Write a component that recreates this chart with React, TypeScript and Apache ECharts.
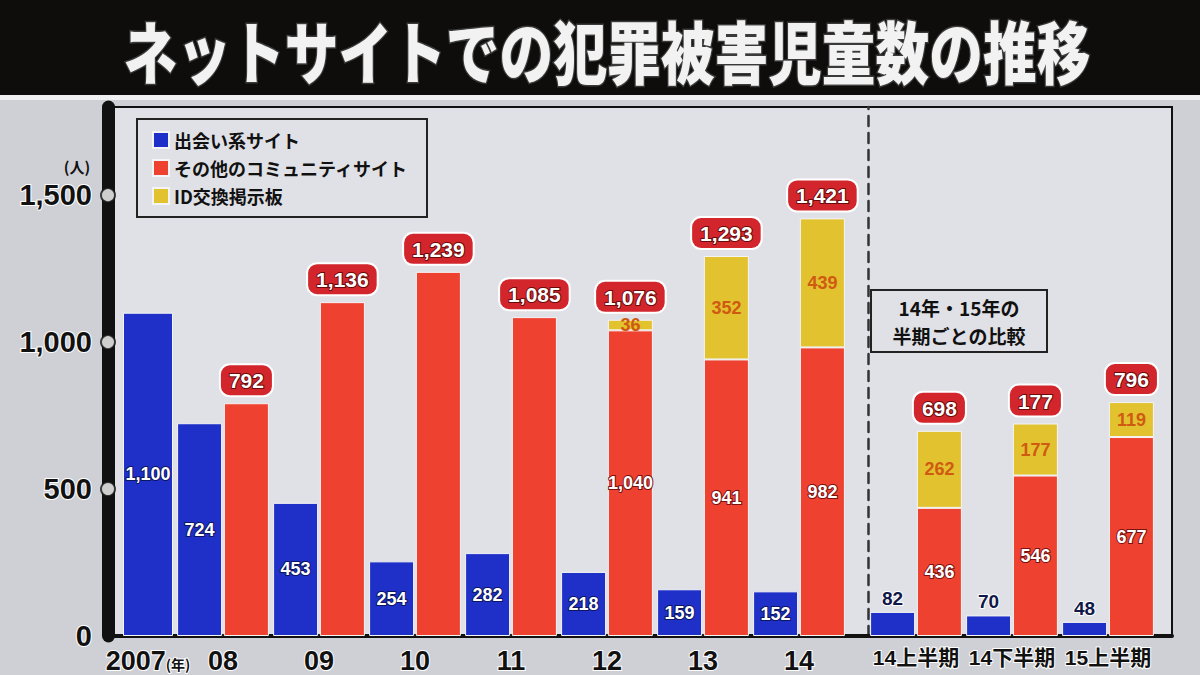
import { useEffect, useRef } from "react";
import * as echarts from "echarts";

const categories = ["2007", "08", "09", "10", "11", "12", "13", "14", "14上半期", "14下半期", "15上半期"];
const deaiSite = [1100, 724, 453, 254, 282, 218, 159, 152, 82, 70, 48];
const communitySite = [null, 792, 1136, 1239, 1085, 1040, 941, 982, 436, 546, 677];
const idBoard = [null, null, null, null, null, 36, 352, 439, 262, 177, 119];
const totalLabels = ["", "792", "1,136", "1,239", "1,085", "1,076", "1,293", "1,421", "698", "177", "796"];
const yTicks = [500, 1000, 1500];

const NAMES = ["出会い系サイト", "その他のコミュニティサイト", "ID交換掲示板"];
const COLORS = ["#1f30c8", "#ef4130", "#e2c22e"];

const JP = "'Noto Sans CJK JP', sans-serif";
const NUM = "'Liberation Sans', 'Noto Sans CJK JP', sans-serif";

const fmt = (v: number) => v.toLocaleString("en-US");

// bar groups: [start, end, gridIndex]
const groups: [number, number, number][] = [
  [0, 1, 1],
  [1, 8, 2],
  [8, 11, 3],
];

function buildSeries() {
  const series: any[] = [
    {
      type: "scatter",
      xAxisIndex: 0,
      yAxisIndex: 0,
      data: yTicks.map(v => [0, v]),
      symbolSize: 14,
      clip: false,
      silent: true,
      z: 5,
      itemStyle: { color: "#ffffff", borderColor: "#111", borderWidth: 2 },
    },
  ];
  groups.forEach(([s, e, g]) => {
    const half = g === 3;
    const stack = "c" + g;
    series.push({
      type: "bar",
      name: NAMES[0],
      xAxisIndex: g,
      yAxisIndex: g,
      data: deaiSite.slice(s, e),
      barWidth: g === 1 ? 50 : 45,
      barGap: "4%",
      itemStyle: { color: COLORS[0], borderColor: "#f4f4f4", borderWidth: 1 },
      label: half
        ? {
            show: true, position: "top", distance: 4, color: "#101848", fontSize: 19,
            fontWeight: "bold", fontFamily: NUM, textBorderColor: "#fff", textBorderWidth: 2,
          }
        : {
            show: true, position: "inside", color: "#fff", fontSize: 18, fontWeight: "bold",
            fontFamily: NUM, textBorderColor: "#0d1660", textBorderWidth: 2,
            formatter: (p: any) => fmt(p.value),
          },
    });
    if (g === 1) return;
    series.push({
      type: "bar",
      name: NAMES[1],
      xAxisIndex: g,
      yAxisIndex: g,
      stack,
      data: communitySite.slice(s, e),
      barWidth: 45,
      barGap: "4%",
      itemStyle: { color: COLORS[1], borderColor: "#f4f4f4", borderWidth: 1 },
      label: {
        show: true, position: "inside", color: "#fff", fontSize: 18, fontWeight: "bold",
        fontFamily: NUM, textBorderColor: "#7a1010", textBorderWidth: 2,
        formatter: (p: any) => (idBoard[s + p.dataIndex] == null ? "" : fmt(p.value)),
      },
    });
    series.push({
      type: "bar",
      name: NAMES[2],
      xAxisIndex: g,
      yAxisIndex: g,
      stack,
      data: idBoard.slice(s, e),
      barWidth: 45,
      barGap: "4%",
      itemStyle: { color: COLORS[2], borderColor: "#f4f4f4", borderWidth: 1 },
      label: {
        show: true, position: "inside", color: "#cf5a12", fontSize: 18, fontWeight: "bold",
        fontFamily: NUM,
      },
    });
    series.push({
      type: "bar",
      name: "合計",
      xAxisIndex: g,
      yAxisIndex: g,
      stack,
      data: totalLabels.slice(s, e).map(() => 0),
      barWidth: 45,
      barGap: "4%",
      itemStyle: { color: "transparent" },
      z: 6,
      label: {
        show: true,
        position: "top",
        distance: 8,
        formatter: (p: any) => totalLabels[s + p.dataIndex],
        color: "#fff",
        fontSize: 21,
        fontWeight: "bold",
        fontFamily: NUM,
        textBorderColor: "#6a0a0a",
        textBorderWidth: 2,
        backgroundColor: "#d2262c",
        borderColor: "#fff",
        borderWidth: 2,
        borderRadius: 9,
        padding: [5, 8, 4, 8],
      },
    });
  });
  return series;
}

const catAxisLabel = {
  color: "#111",
  fontSize: 27,
  fontWeight: "bold",
  fontFamily: NUM,
  textBorderColor: "#fff",
  textBorderWidth: 2,
  margin: 11,
  interval: 0,
};

export default function App() {
  const ref = useRef<HTMLDivElement>(null);

  useEffect(() => {
    document.body.style.margin = "0";
    if (!ref.current) return;
    const chart = echarts.init(ref.current, null, { renderer: "svg" });
    const gridPos = { top: 107, bottom: 39 };

    chart.setOption({
      animation: false,
      backgroundColor: "#cfd0d5",
      graphic: [
        { type: "rect", shape: { x: 0, y: 0, width: 1200, height: 95 }, style: { fill: "#0f0d0b" } },
        { type: "rect", shape: { x: 0, y: 95, width: 1200, height: 5 }, style: { fill: "#f0f0f2" } },
        {
          type: "text",
          x: 607,
          y: 50,
          scaleX: 0.79,
          style: {
            text: "ネットサイトでの犯罪被害児童数の推移",
            fill: "#f2f2f2",
            stroke: "#3a3a3a",
            lineWidth: 3,
            fontSize: 68,
            fontWeight: 900,
            fontFamily: JP,
            align: "center",
            verticalAlign: "middle",
          },
        },
        {
          type: "text",
          x: 77,
          y: 166,
          style: {
            text: "(人)",
            fill: "#111",
            fontSize: 15,
            fontWeight: "bold",
            fontFamily: JP,
            align: "center",
            verticalAlign: "middle",
          },
        },
      ],
      title: {
        text: "14年・15年の\n半期ごとの比較",
        left: 937,
        top: 290,
        textAlign: "center",
        padding: [3, 22, 3, 22],
        borderColor: "#222",
        borderWidth: 2,
        textStyle: { fontSize: 19, fontWeight: "bold", color: "#111", fontFamily: JP, lineHeight: 28 },
      },
      legend: {
        data: NAMES,
        orient: "vertical",
        left: 137,
        top: 119,
        padding: [12, 19, 12, 15],
        itemGap: 10,
        itemWidth: 16,
        itemHeight: 16,
        icon: "rect",
        selectedMode: false,
        borderColor: "#222",
        borderWidth: 2,
        textStyle: { fontSize: 18, fontWeight: "bold", color: "#111", fontFamily: JP },
      },
      grid: [
        { left: 108, right: 28, ...gridPos, show: true, backgroundColor: "#e0e1e6", borderColor: "#111", borderWidth: 2 },
        { left: 98, width: 100, ...gridPos },
        { left: 175, width: 672, ...gridPos },
        { left: 868, width: 288, ...gridPos },
      ],
      xAxis: [
        {
          gridIndex: 0, type: "value", min: 0, max: 1,
          axisLine: { show: true, lineStyle: { color: "#111", width: 4 } },
          axisTick: { show: false }, axisLabel: { show: false }, splitLine: { show: false },
        },
        {
          gridIndex: 1, type: "category", data: categories.slice(0, 1),
          axisLine: { show: false }, axisTick: { show: false },
          axisLabel: {
            ...catAxisLabel,
            formatter: (v: string) => `{y|${v}}{n|(年)}`,
            rich: {
              y: { fontSize: 27, fontWeight: "bold", fontFamily: NUM, color: "#111", textBorderColor: "#fff", textBorderWidth: 2 },
              n: { fontSize: 14, fontWeight: "bold", fontFamily: JP, color: "#111", padding: [8, 0, 0, 0] },
            },
          },
        },
        {
          gridIndex: 2, type: "category", data: categories.slice(1, 8),
          axisLine: { show: false }, axisTick: { show: false }, axisLabel: catAxisLabel,
        },
        {
          gridIndex: 3, type: "category", data: categories.slice(8),
          axisLine: { show: false }, axisTick: { show: false },
          axisLabel: { ...catAxisLabel, fontSize: 21 },
        },
      ],
      yAxis: [
        {
          gridIndex: 0, type: "value", min: 0, max: 1800, interval: 500,
          axisLine: { show: true, lineStyle: { color: "#111", width: 13 } },
          axisTick: { show: false }, splitLine: { show: false },
          axisLabel: {
            formatter: (v: number) => (v % 500 === 0 ? fmt(v) : ""),
            color: "#111", fontSize: 29, fontWeight: "bold", fontFamily: NUM,
            textBorderColor: "#fff", textBorderWidth: 2, margin: 16,
          },
        },
        { gridIndex: 1, type: "value", min: 0, max: 1800, show: false },
        { gridIndex: 2, type: "value", min: 0, max: 1800, show: false },
        {
          gridIndex: 3, type: "value", min: 0, max: 1800,
          axisLine: { show: true, lineStyle: { color: "#333", width: 2.5, type: [10, 7] } },
          axisTick: { show: false }, axisLabel: { show: false }, splitLine: { show: false },
        },
      ],
      series: buildSeries(),
    });

    return () => chart.dispose();
  }, []);

  return <div ref={ref} style={{ width: 1200, height: 675 }} />;
}
